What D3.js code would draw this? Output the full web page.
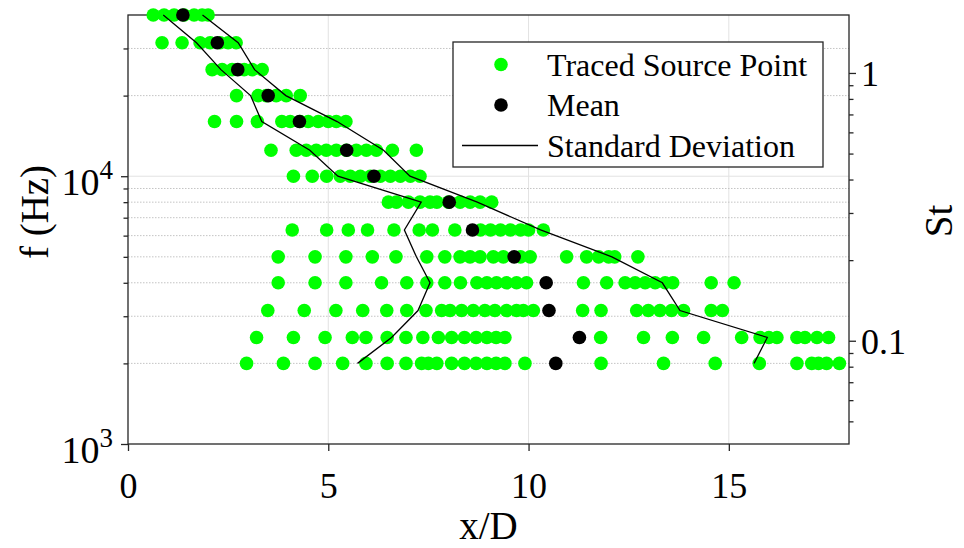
<!DOCTYPE html>
<html>
<head>
<meta charset="utf-8">
<script src="https://cdn.jsdelivr.net/npm/d3@7"></script>
<style>
  body { margin: 0; background: #fff; }
  svg { display: block; font-family: "Liberation Serif", "Times New Roman", serif; }
</style>
</head>
<body>
<svg id="chart"></svg>
<script>
// one-third octave bands with a traced source (Hz)
var freqBands = [40000, 31500, 25000, 20000, 16000, 12500, 10000, 8000, 6300, 5000, 4000, 3150, 2500, 2000];

// traced source points, x/D, one list per band (same order as freqBands)
var tracedX = [
  [0.63, 0.9, 1.15, 1.4, 1.65, 1.85, 2.0],
  [0.85, 1.35, 1.8, 2.05, 2.3, 2.5, 2.7],
  [2.1, 2.35, 2.6, 2.9, 3.1, 3.35],
  [2.71, 3.25, 3.45, 3.7, 3.95, 4.3],
  [2.16, 2.71, 3.23, 3.84, 4.05, 4.3, 4.5, 4.75, 5.0, 5.2, 5.44],
  [3.57, 4.2, 4.45, 4.7, 4.95, 5.2, 5.45, 5.7, 5.95, 6.2, 6.6, 7.2],
  [4.13, 4.6, 4.96, 5.3, 5.55, 5.8, 6.05, 6.3, 6.55, 6.8, 7.05, 7.29],
  [6.5, 6.7, 7.0, 7.29, 7.54, 7.71, 8.0, 8.29, 8.54, 8.79, 9.08],
  [4.1, 4.96, 5.5, 5.98, 6.64, 7.27, 7.6, 8.16, 8.8, 9.05, 9.3, 9.55, 9.8, 10.0, 10.37],
  [3.75, 4.67, 5.44, 6.1, 6.69, 7.46, 7.91, 8.29, 8.54, 8.79, 9.12, 9.37, 9.8, 10.04, 10.95, 11.45, 11.75, 12.0, 12.15, 12.73],
  [3.75, 4.67, 5.44, 6.33, 6.96, 7.46, 7.91, 8.3, 8.71, 8.96, 9.2, 9.45, 9.7, 9.95, 11.37, 11.95, 12.41, 12.66, 12.91, 13.16, 13.41, 13.6, 14.56, 15.13],
  [3.49, 4.4, 5.19, 5.86, 6.46, 6.96, 7.44, 7.83, 8.04, 8.33, 8.62, 8.91, 9.16, 9.45, 9.7, 9.87, 10.12, 11.35, 11.81, 12.7, 12.99, 13.28, 13.57, 13.87, 14.56, 14.84],
  [3.21, 4.13, 4.92, 5.6, 5.94, 6.47, 6.94, 7.36, 7.75, 8.08, 8.4, 8.69, 8.96, 9.19, 9.41, 11.8, 12.87, 13.59, 14.37, 15.32, 15.78, 16.0, 16.2, 16.7, 16.9, 17.2, 17.49],
  [2.96, 3.88, 4.67, 5.36, 5.94, 6.47, 6.94, 7.33, 7.5, 7.71, 8.08, 8.4, 8.69, 8.96, 9.19, 9.41, 9.91, 11.81, 13.37, 14.66, 15.76, 16.7, 17.07, 17.24, 17.44, 17.76]
];

// mean and standard deviation of x/D per band
var meanX = [1.37, 2.23, 2.74, 3.50, 4.28, 5.46, 6.14, 8.02, 8.60, 9.64, 10.44, 10.51, 11.27, 10.68];
var stdX = [0.49, 0.52, 0.42, 0.44, 0.94, 0.92, 0.90, 0.70, 1.70, 2.44, 2.90, 3.27, 4.69, 4.95];

// axis ticks
var xTicks = [0, 5, 10, 15];
var fTickExps = [3, 4];
var fMinorTicks = [2000, 3000, 4000, 5000, 6000, 7000, 8000, 9000, 20000, 30000];
var stTicks = [0.1, 1];
var stTickLabels = ["0.1", "1"];
var stMinorTicks = [0.05, 0.06, 0.07, 0.08, 0.09, 0.2, 0.3, 0.4, 0.5, 0.6, 0.7, 0.8, 0.9];
var stRefFreq = 24300; // St = f / stRefFreq

var legendLabels = ["Traced Source Point", "Mean", "Standard Deviation"];

// Setting margin, height and width
var margin = { top: 15, bottom: 104, left: 128, right: 115 };
var width = 964 - margin.left - margin.right;
var height = 548 - margin.top - margin.bottom;

var axisColor = "#262626";
var green = "#00ff00";

// setting scales
var xscale = d3.scaleLinear().domain([0, 18]).range([0, width]);
var yscale = d3.scaleLog().domain([1000, 40000]).range([height, 0]);
var stscale = d3.scaleLog().domain([1000 / stRefFreq, 40000 / stRefFreq]).range([height, 0]);

var svg = d3.select("#chart")
	.attr("width", 964)
	.attr("height", 548);

svg.append("rect").attr("width", 964).attr("height", 548).attr("fill", "#fff");

var graph = svg.append("g")
	.attr("transform", "translate(" + margin.left + "," + margin.top + ")");

// grid
var grid = graph.append("g").attr("class", "grid");
grid.selectAll(".gx").data(xTicks.slice(1)).enter().append("line")
	.attr("x1", function(d) { return xscale(d); })
	.attr("x2", function(d) { return xscale(d); })
	.attr("y1", 0).attr("y2", height)
	.attr("stroke", "#e2e2e2").attr("stroke-width", 1);
grid.selectAll(".gy").data([10000]).enter().append("line")
	.attr("x1", 0).attr("x2", width)
	.attr("y1", function(d) { return yscale(d); })
	.attr("y2", function(d) { return yscale(d); })
	.attr("stroke", "#e2e2e2").attr("stroke-width", 1);
grid.selectAll(".gym").data(fMinorTicks).enter().append("line")
	.attr("x1", 0).attr("x2", width)
	.attr("y1", function(d) { return yscale(d); })
	.attr("y2", function(d) { return yscale(d); })
	.attr("stroke", "#c4c4c4").attr("stroke-width", 1)
	.attr("stroke-dasharray", "1.5,1.5");

// axes (ticks only, box drawn below)
function styleAxis(g) {
	g.attr("font-family", null).attr("font-size", null);
	g.select(".domain").remove();
	g.selectAll(".tick line").attr("stroke", axisColor).attr("stroke-width", 1.3);
	g.selectAll("text").attr("fill", "#000");
}

var xaxis = d3.axisBottom(xscale).tickValues(xTicks).tickSize(7).tickPadding(21)
	.tickFormat(d3.format("d"));
graph.append("g")
	.attr("transform", "translate(0," + height + ")")
	.call(xaxis)
	.call(styleAxis)
	.selectAll("text").attr("font-size", 36);

var yaxis = d3.axisLeft(yscale).tickValues(fTickExps.map(function(e) { return Math.pow(10, e); }))
	.tickSize(7).tickFormat("");
var ygroup = graph.append("g").call(yaxis).call(styleAxis);
ygroup.selectAll(".tick").each(function(d) {
	var t = d3.select(this).append("text")
		.attr("x", -15).attr("y", 18)
		.attr("text-anchor", "end")
		.attr("fill", "#000");
	t.append("tspan").attr("font-size", 38).text("10");
	t.append("tspan").attr("font-size", 27).attr("dy", -16).text(Math.round(Math.log10(d)));
});
graph.append("g")
	.call(d3.axisLeft(yscale).tickValues(fMinorTicks).tickSize(4.5).tickFormat(""))
	.call(styleAxis);

var staxis = d3.axisRight(stscale).tickValues(stTicks).tickSize(7).tickPadding(5)
	.tickFormat(function(d, i) { return stTickLabels[i]; });
graph.append("g")
	.attr("transform", "translate(" + width + ",0)")
	.call(staxis)
	.call(styleAxis)
	.selectAll("text").attr("font-size", 36).attr("dy", "0.36em");
graph.append("g")
	.attr("transform", "translate(" + width + ",0)")
	.call(d3.axisRight(stscale).tickValues(stMinorTicks).tickSize(4.5).tickFormat(""))
	.call(styleAxis);

// box
graph.append("rect")
	.attr("width", width).attr("height", height)
	.attr("fill", "none")
	.attr("stroke", axisColor).attr("stroke-width", 1.3);

// axis labels
svg.append("text")
	.attr("transform", "translate(" + (margin.left + width / 2) + ",539)")
	.attr("text-anchor", "middle")
	.attr("font-size", 39)
	.text("x/D");
svg.append("text")
	.attr("transform", "translate(48,212) rotate(-90)")
	.attr("text-anchor", "middle")
	.attr("font-size", 39)
	.text("f (Hz)");
svg.append("text")
	.attr("transform", "translate(952,221) rotate(-90)")
	.attr("text-anchor", "middle")
	.attr("font-size", 39)
	.text("St");

// traced source points
var points = [];
freqBands.forEach(function(f, i) {
	tracedX[i].forEach(function(v) { points.push({ f: f, x: v }); });
});
graph.append("g").selectAll("circle").data(points).enter().append("circle")
	.attr("cx", function(d) { return xscale(d.x); })
	.attr("cy", function(d) { return yscale(d.f); })
	.attr("r", 6.8)
	.attr("fill", green);

// standard deviation lines
var sdLine = d3.line()
	.x(function(d) { return xscale(d[0]); })
	.y(function(d) { return yscale(d[1]); });
[-1, 1].forEach(function(sign) {
	var pts = freqBands.map(function(f, i) { return [meanX[i] + sign * stdX[i], f]; });
	graph.append("path")
		.attr("d", sdLine(pts))
		.attr("fill", "none")
		.attr("stroke", "#000")
		.attr("stroke-width", 1.3);
});

// means
graph.append("g").selectAll("circle").data(freqBands).enter().append("circle")
	.attr("cx", function(d, i) { return xscale(meanX[i]); })
	.attr("cy", function(d) { return yscale(d); })
	.attr("r", 6.8)
	.attr("fill", "#000");

// legend
var legend = svg.append("g").attr("transform", "translate(453,42)");
legend.append("rect")
	.attr("width", 370).attr("height", 125)
	.attr("fill", "#fff")
	.attr("stroke", axisColor).attr("stroke-width", 1.3);
var rowY = [22.5, 63, 103.5];
legend.append("circle").attr("cx", 48).attr("cy", rowY[0]).attr("r", 6.8).attr("fill", green);
legend.append("circle").attr("cx", 48).attr("cy", rowY[1]).attr("r", 6.8).attr("fill", "#000");
legend.append("line")
	.attr("x1", 9).attr("x2", 85)
	.attr("y1", rowY[2]).attr("y2", rowY[2])
	.attr("stroke", "#000").attr("stroke-width", 1.3);
legend.selectAll("text").data(legendLabels).enter().append("text")
	.attr("x", 94)
	.attr("y", function(d, i) { return rowY[i] + 11; })
	.attr("font-size", 32)
	.text(function(d) { return d; });
</script>
</body>
</html>
